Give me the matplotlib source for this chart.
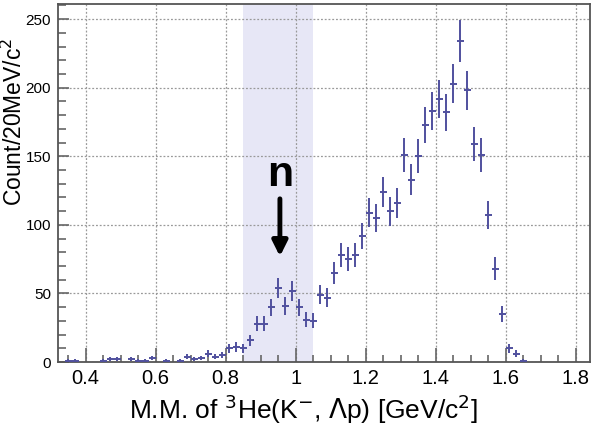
import matplotlib

matplotlib.use("Agg")

import matplotlib.pyplot as plt
import numpy as np
from matplotlib.ticker import MultipleLocator, FixedLocator

plt.rcParams["font.family"] = ["Liberation Sans", "DejaVu Sans"]

# bin centres (GeV/c^2), 20 MeV bins
bin_centers = [
    0.35, 0.37, 0.45, 0.47, 0.49, 0.53, 0.55, 0.57, 0.59,
    0.63, 0.67, 0.69, 0.71, 0.73, 0.75, 0.77, 0.79,
    0.81, 0.83, 0.85, 0.87, 0.89, 0.91, 0.93, 0.95, 0.97, 0.99,
    1.01, 1.03, 1.05, 1.07, 1.09, 1.11, 1.13, 1.15, 1.17, 1.19,
    1.21, 1.23, 1.25, 1.27, 1.29, 1.31, 1.33, 1.35, 1.37, 1.39,
    1.41, 1.43, 1.45, 1.47, 1.49, 1.51, 1.53, 1.55, 1.57, 1.59,
    1.61, 1.63, 1.65,
]
counts = [
    1, 1, 1, 2, 2, 2, 1, 1, 3,
    1, 1, 4, 2, 3, 6, 4, 5,
    10, 11, 10, 16, 28, 28, 40, 54, 41, 52,
    40, 31, 30, 49, 47, 65, 78, 75, 78, 92,
    109, 105, 124, 110, 116, 151, 133, 150, 173, 183,
    192, 182, 203, 234, 198, 159, 151, 107, 68, 35,
    10, 6, 1,
]
bin_half_width = 0.01

band_range = (0.85, 1.05)
x_ticks = [0.4, 0.6, 0.8, 1.0, 1.2, 1.4, 1.6, 1.8]
x_tick_labels = ["0.4", "0.6", "0.8", "1", "1.2", "1.4", "1.6", "1.8"]
y_ticks = [0, 50, 100, 150, 200, 250]

x = np.array(bin_centers)
y = np.array(counts, dtype=float)
yerr = np.sqrt(y)

fig = plt.figure(figsize=(5.96, 4.30), dpi=100)
ax = fig.add_axes([0.0973, 0.158, 0.8927, 0.8327])

ax.axvspan(*band_range, color="#e7e7f6", zorder=0, lw=0)
ax.errorbar(
    x, y, xerr=bin_half_width, yerr=yerr, fmt="none",
    ecolor="#50509e", elinewidth=1.4, capsize=0, zorder=3,
)

ax.set_xlim(0.321, 1.841)
ax.set_ylim(0, 261)

ax.xaxis.set_major_locator(FixedLocator(x_ticks))
ax.set_xticklabels(x_tick_labels)
ax.xaxis.set_minor_locator(MultipleLocator(0.05))
ax.yaxis.set_major_locator(FixedLocator(y_ticks))
ax.yaxis.set_minor_locator(MultipleLocator(10))

ax.tick_params(which="both", direction="in", color="#666666", width=1.2)
ax.tick_params(axis="x", which="major", length=10, labelsize=14.5, pad=5)
ax.tick_params(axis="x", which="minor", length=5)
ax.tick_params(axis="y", which="major", length=8, labelsize=11, pad=5)
ax.tick_params(axis="y", which="minor", length=6)
for s in ax.spines.values():
    s.set_color("#555555")
    s.set_linewidth(1.3)

ax.grid(True, which="major", linestyle=(0, (1.5, 1.5)), color="#999999", lw=0.9)
ax.set_axisbelow(True)

ax.set_xlabel(r"M.M. of $^{3}$He(K$^{-}$, $\Lambda$p) [GeV/c$^{2}$]", fontsize=19)
ax.xaxis.set_label_coords(0.4605, -0.085)
ax.set_ylabel(r"Count/20MeV/c$^{2}$", fontsize=16.5)
ax.yaxis.set_label_coords(-0.059, 0.67)

ax.text(0.955, 136, "n", fontsize=31, fontweight="bold", ha="center", va="center")
ax.annotate(
    "", xy=(0.955, 75), xytext=(0.955, 121),
    arrowprops=dict(arrowstyle="-|>,head_width=0.45,head_length=0.9", color="black", lw=3.5),
)

fig.savefig("out.png", dpi=100)
